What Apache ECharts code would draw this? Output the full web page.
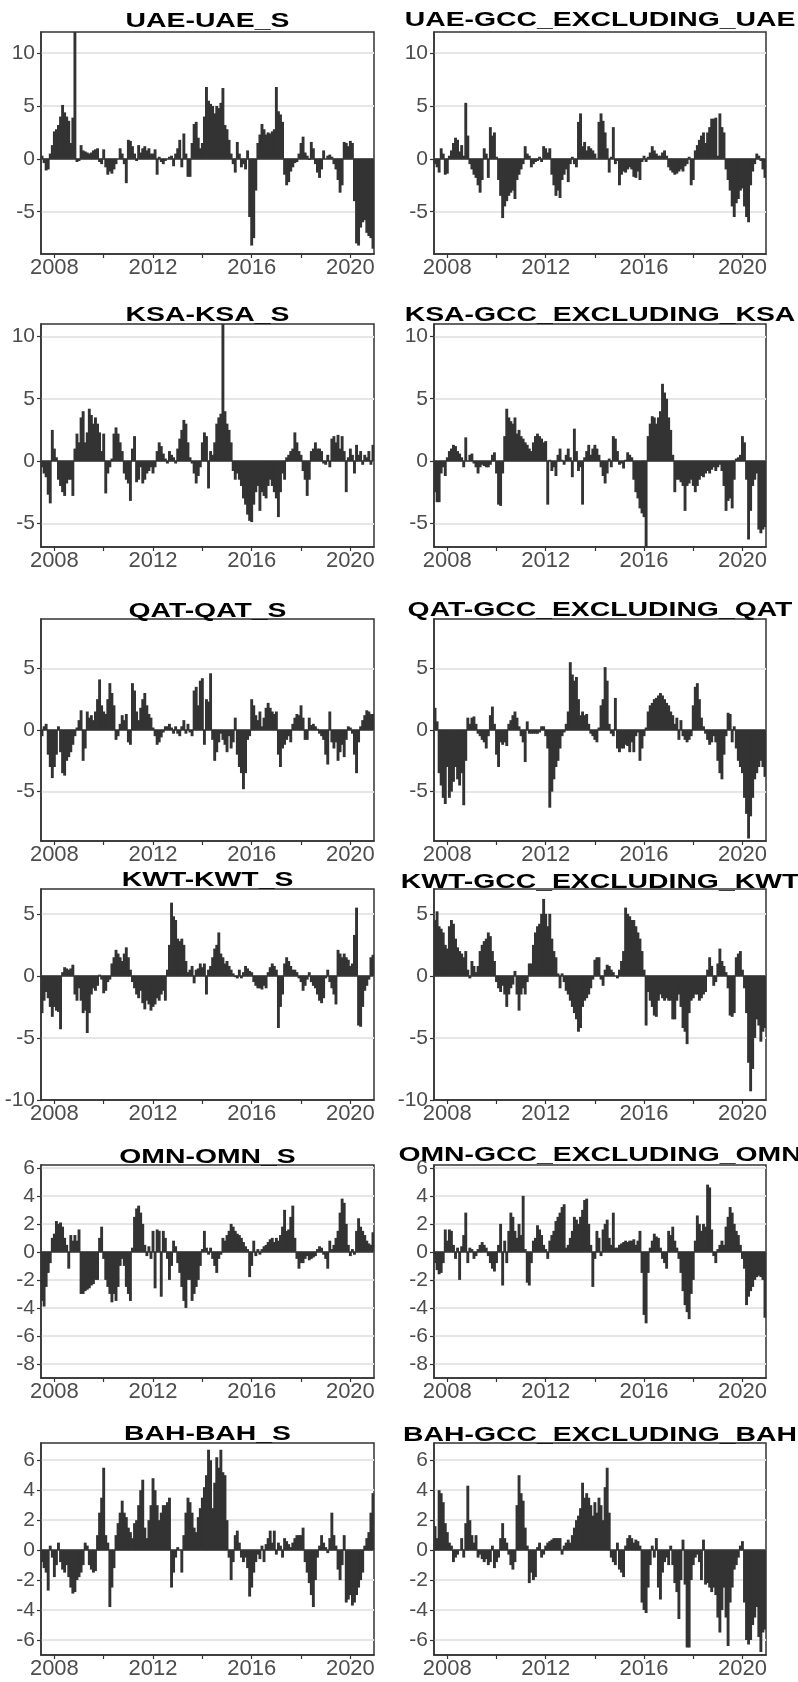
<!DOCTYPE html>
<html><head><meta charset="utf-8">
<script src="https://cdn.jsdelivr.net/npm/echarts@6/dist/echarts.min.js"></script>
<style>html,body{margin:0;padding:0;background:#fff}#c{width:798px;height:1682px}</style>
</head><body><div id="c"></div>
<script>
// ---- categories (monthly, Jul 2007 .. Dec 2020) ----
const months = [];
for (let y = 2007; y <= 2020; y++) for (let m = 1; m <= 12; m++) {
  if (y === 2007 && m < 7) continue;
  months.push(y + '-' + String(m).padStart(2, '0'));
}
const yearLabels = ['2008', '2012', '2016', '2020'];

const titles = ['UAE-UAE_S','UAE-GCC_EXCLUDING_UAE','KSA-KSA_S','KSA-GCC_EXCLUDING_KSA',
  'QAT-QAT_S','QAT-GCC_EXCLUDING_QAT','KWT-KWT_S','KWT-GCC_EXCLUDING_KWT',
  'OMN-OMN_S','OMN-GCC_EXCLUDING_OMN','BAH-BAH_S','BAH-GCC_EXCLUDING_BAH'];

// ---- series values ----
const uaeUae = [0.3,-0.4,-1.1,-1.0,0.5,1.3,
 2.6,2.8,3.2,4.0,5.1,4.4,4.0,3.6,1.5,3.9,12,-0.3,
 -0.2,1.3,0.8,0.7,0.6,0.5,0.6,0.8,0.9,1.0,-0.3,-0.5,
 0.9,-0.8,-1.5,-1.2,-1.4,-1.0,-0.5,0.0,1.0,0.5,-0.5,-2.3,
 1.8,1.7,1.2,0.5,-0.2,1.3,0.6,1.0,1.2,0.8,1.0,0.5,
 0.5,0.9,-1.5,0.2,-0.3,-0.5,-0.2,0.0,0.2,0.3,-0.7,0.5,
 1.0,1.8,-0.8,2.4,0.5,-1.7,-1.7,1.5,3.3,3.5,2.0,1.0,
 1.5,4.0,6.8,5.5,5.2,5.0,4.3,5.0,4.8,5.3,6.7,3.2,
 2.8,1.8,0.5,-0.5,-1.3,1.6,0.5,-0.8,-0.5,-1.0,0.8,-5.5,
 -8.2,-7.5,-3.0,1.5,2.3,3.3,2.8,2.3,2.5,2.4,2.6,2.8,
 6.8,4.5,4.2,3.5,-1.5,-2.5,-2.2,-1.2,-0.8,-0.4,-0.3,0.5,
 1.5,2.1,0.6,0.3,-0.1,1.6,1.0,-0.5,-1.3,-1.8,-1.0,0.8,
 0.0,0.3,0.4,0.2,-0.5,-1.0,-2.0,-3.2,-2.5,1.6,1.5,1.2,
 1.7,1.5,-4.0,-8.0,-8.2,-6.5,-6.0,-5.8,-7.0,-7.3,-7.5,-8.5];
const uaeGcc = [-0.5,-0.8,-1.3,1.0,0.5,-1.5,
 -1.4,0.3,0.8,1.5,2.0,1.8,0.7,1.3,0.3,5.3,2.2,-0.5,
 -1.0,-1.5,-1.8,-2.5,-3.2,-2.0,1.0,0.5,-1.8,3.0,2.2,2.5,
 0.2,-2.0,-3.5,-5.6,-4.5,-4.0,-3.5,-3.2,-3.0,-3.8,-2.0,-1.5,
 -1.0,-0.5,1.2,0.5,0.3,-0.8,-0.5,-0.3,-0.2,0.2,-0.3,1.2,
 1.0,0.6,1.0,-1.5,-2.5,-3.5,-3.0,-3.7,-2.0,-1.5,-1.0,-2.2,
 -0.5,0.2,-0.5,-0.8,3.5,4.3,1.2,1.6,0.8,1.2,1.0,0.8,
 0.5,0.0,3.5,4.3,3.6,2.5,1.0,-1.3,0.2,3.0,-0.5,-0.2,
 -2.5,-1.5,-1.2,-1.3,-1.0,-0.8,-1.0,-1.7,-1.8,-1.2,-2.0,-0.3,
 0.3,-0.3,0.2,0.6,1.2,0.8,0.5,0.3,0.3,0.6,0.8,0.3,
 -0.8,-1.1,-1.3,-1.5,-1.4,-1.2,-1.0,-1.2,-0.7,-0.5,0.2,-2.5,
 -2.0,0.8,1.3,1.8,2.2,2.5,1.5,2.5,3.0,3.8,3.8,3.9,
 0.3,4.3,3.0,2.5,-1.0,-2.0,-3.0,-4.5,-5.5,-4.2,-3.8,-3.0,
 -2.8,-4.5,-5.5,-6.0,-2.5,-1.2,-0.5,0.5,0.3,-0.2,-1.0,-1.8];
const ksaKsa = [-0.5,-1.0,-1.3,-2.7,-3.4,2.5,
 1.0,0.3,-1.5,-2.0,-2.5,-2.8,-1.8,-1.5,-1.5,-2.8,1.0,2.2,
 1.5,3.5,4.0,1.5,2.3,4.2,3.7,3.0,3.5,3.0,2.3,0.8,
 2.2,-2.6,-1.0,-0.5,0.2,2.2,2.7,2.2,1.5,0.8,-1.0,-1.5,
 -1.8,-3.2,1.0,2.0,-1.7,-1.5,-0.5,-1.8,-1.5,-1.0,-0.8,-0.5,
 -1.0,-0.5,0.8,1.5,1.2,0.6,0.2,-0.2,0.8,0.5,0.3,-0.2,
 1.0,1.8,2.5,3.3,3.0,1.5,0.3,-0.2,-1.0,-1.8,-1.2,-0.5,
 1.5,2.3,2.0,-2.2,0.8,0.5,1.5,3.0,3.5,3.8,11.0,4.0,
 3.0,2.5,1.5,-0.8,-1.5,-1.0,-1.5,-2.0,-3.0,-3.5,-4.3,-4.8,
 -4.9,-3.5,-2.5,-2.0,-4.0,-2.5,-2.8,-3.0,-2.0,-1.5,-2.0,-2.5,
 -3.0,-4.5,-2.5,-1.0,-1.5,0.3,0.5,0.8,1.0,2.3,1.5,0.8,
 0.5,-0.8,-1.5,-2.8,-1.5,0.8,1.0,1.5,1.0,1.0,0.8,-0.2,
 -0.3,0.5,-0.5,1.8,2.0,1.5,2.1,1.0,2.0,0.8,-2.5,0.3,
 1.0,0.5,-1.0,1.3,0.5,0.8,-0.3,0.5,0.3,0.8,-0.3,1.3];
const ksaGcc = [-2.5,-3.3,-3.3,-1.0,-0.5,-1.2,
 0.3,0.8,1.0,1.3,1.2,0.8,0.6,0.3,-0.5,1.9,0.0,0.5,
 0.6,-0.2,-0.5,-1.0,-0.5,-0.3,-0.4,-0.5,-0.5,-0.3,0.5,0.7,
 -1.0,-3.5,-3.6,-1.0,2.0,4.2,3.5,3.2,3.0,3.5,2.2,2.5,
 2.0,1.8,1.5,1.3,1.0,0.8,1.5,2.0,2.2,2.0,1.8,1.5,
 1.6,-3.5,0.1,-0.8,-0.5,-1.2,0.5,1.0,0.1,-0.3,0.5,1.0,
 0.3,-1.3,2.6,0.8,-0.8,-0.5,-3.5,0.3,0.8,1.3,0.5,1.0,
 1.3,1.0,0.5,-0.5,-1.2,-1.8,-1.0,0.2,-0.5,2.0,1.8,0.8,
 -0.3,-0.2,-0.6,0.1,0.7,0.5,0.3,-1.5,-2.5,-3.0,-3.8,-4.2,
 -4.5,-7.0,2.0,3.0,3.6,3.5,3.0,3.5,4.0,6.2,5.5,5.0,
 3.5,2.5,0.5,-2.5,-1.5,-1.5,-1.7,-2.0,-4.0,-2.0,-1.8,-1.5,
 -2.0,-2.5,-2.0,-1.5,-1.2,-1.3,-1.0,-0.8,-1.0,-0.7,-0.5,-0.8,
 -0.5,-0.3,-0.8,-2.0,-4.0,-3.2,-3.0,-3.8,-1.5,0.2,0.3,0.5,
 2.0,1.5,-1.5,-6.3,-4.0,-2.0,-1.5,-1.0,-5.5,-5.8,-5.5,-5.3];
const qatQat = [-0.5,0.3,0.5,-2.0,-3.0,-3.9,
 -3.0,-2.0,0.3,-1.8,-3.5,-3.7,-2.5,-2.2,-1.8,-1.2,-0.5,0.2,
 0.8,1.6,-2.5,-1.5,1.5,1.0,1.2,0.8,1.5,2.5,4.1,2.0,
 1.5,1.3,2.5,3.8,3.0,2.0,-0.8,-0.5,0.5,1.2,0.8,1.3,
 -1.0,-1.2,3.8,3.2,1.5,0.8,1.8,2.5,3.0,2.0,1.3,1.0,
 0.2,-0.5,-1.2,-1.0,-0.6,-0.2,0.3,0.3,0.5,0.2,-0.3,0.3,
 -0.3,-0.5,0.3,0.8,-0.3,0.5,-0.2,-0.5,3.2,3.5,2.0,4.0,
 4.2,-1.2,2.5,2.3,4.6,-0.8,-2.5,-1.8,-1.0,-0.3,-0.8,-1.2,
 -1.8,-0.5,-1.5,-1.0,1.0,-2.0,-3.0,-3.5,-4.8,-3.5,-0.8,-0.5,
 2.5,2.0,1.2,0.8,1.5,0.3,1.0,1.8,2.2,1.8,1.5,1.3,
 1.5,-2.0,-3.0,-1.5,-1.2,-0.8,-0.5,-1.0,0.5,1.0,1.3,1.2,
 2.0,1.0,-0.8,-0.8,1.0,0.4,0.5,0.3,0.1,-0.3,-0.5,-0.8,
 -2.0,-2.8,1.5,-1.0,-1.5,-1.0,-2.5,-1.8,-1.2,-2.2,-0.8,0.3,
 0.2,-0.3,-2.0,-3.5,-1.0,0.3,0.8,1.2,1.6,1.5,1.3,1.3];
const qatGcc = [1.8,0.7,-3.5,-4.5,-5.5,-6.0,
 -3.0,-5.5,-5.0,-4.2,-3.0,-4.0,-4.5,-3.5,-6.1,-2.5,1.0,0.5,
 1.0,1.1,0.5,-0.3,-0.5,-0.8,-1.0,-1.5,-0.5,1.2,1.9,0.5,
 -2.0,-3.0,-1.0,-1.2,-1.0,-1.3,0.5,0.8,1.2,1.5,1.0,0.3,
 -0.5,-1.0,-2.6,0.7,-0.3,-0.3,-0.3,-0.3,-0.3,-0.2,0.3,0.3,
 -0.5,-1.5,-6.3,-5.0,-4.0,-3.0,-2.5,-1.5,-0.5,-0.2,0.5,1.5,
 5.5,4.5,4.0,4.3,2.5,1.2,1.5,1.2,1.3,0.5,-0.3,-0.5,
 -0.8,-1.0,0.2,2.0,2.5,5.1,4.0,0.5,-0.3,-0.5,2.6,-1.5,
 -1.8,-1.5,-1.5,-1.2,-1.3,-1.8,-1.0,-1.8,-0.5,-0.2,-2.5,-1.5,
 -0.5,0.2,1.5,2.0,2.2,2.5,2.6,2.8,3.0,2.8,2.5,2.2,
 2.0,1.5,1.2,0.5,1.0,-0.8,0.8,-0.5,-0.8,-1.0,-0.8,-0.5,
 2.0,3.5,3.8,2.5,1.0,0.3,-0.3,-0.8,-1.2,-1.0,-0.5,-1.0,
 -2.5,-3.5,-4.0,-2.0,-0.5,1.4,1.3,-1.0,0.3,-1.5,-2.5,-3.0,
 -3.5,-5.5,-6.8,-8.8,-7.0,-5.5,-4.0,-3.5,-3.0,-2.5,-3.0,-3.8];
const kwtKwt = [-3.0,-2.0,-1.3,-1.8,-2.5,-3.3,
 -2.5,-2.8,-2.9,-4.3,0.3,0.7,0.6,0.5,0.6,0.9,-1.5,-2.0,
 -1.0,-2.0,-3.0,-2.8,-4.6,-3.0,-1.5,-1.0,-1.2,-0.8,0.1,-0.3,
 -1.4,-1.2,-0.5,-0.3,1.0,1.5,2.1,1.8,1.5,1.2,1.8,2.3,
 1.5,0.5,-0.5,-1.0,-1.5,-1.8,-1.2,-2.2,-2.7,-2.0,-2.3,-2.8,
 -2.5,-2.3,-1.8,-2.0,-1.5,-1.2,-2.0,0.5,2.5,5.9,4.8,4.5,
 3.0,2.8,3.0,2.5,1.2,0.3,0.5,0.8,-0.6,0.5,0.6,1.0,
 0.7,1.0,-1.5,0.5,0.8,1.5,2.2,2.5,3.5,1.8,1.5,1.0,
 1.2,0.8,0.5,0.2,-0.1,-0.2,0.5,-0.2,0.3,0.8,0.6,0.4,
 0.3,-0.5,-0.8,-1.0,-1.0,-1.1,-0.8,-1.0,0.3,0.7,1.0,0.8,
 0.5,-4.2,-2.5,-1.5,1.0,1.5,1.2,0.8,0.5,0.5,0.3,-0.2,
 -0.5,-1.2,-0.8,-0.3,0.3,-0.5,-0.8,-1.0,-1.5,-2.0,-2.2,-1.8,
 -0.2,0.5,-0.5,-1.0,-1.5,-2.3,2.1,1.8,1.5,1.8,1.5,1.3,
 0.8,1.0,3.3,5.5,-4.0,-4.1,-2.5,-1.2,-0.8,-0.3,1.5,1.7];
const kwtGcc = [4.5,5.2,4.0,3.8,3.5,2.5,
 2.2,4.0,4.5,4.2,3.0,2.3,2.0,1.8,1.5,2.0,0.5,-0.2,
 1.2,0.8,0.3,0.8,2.0,2.5,2.8,3.0,3.5,3.2,2.0,1.2,
 -0.5,-1.0,-1.3,-0.8,-1.5,-2.5,-1.5,-1.0,-0.7,0.4,-1.5,-2.8,
 -1.5,-1.0,-1.5,-0.5,1.0,1.0,2.5,3.5,4.0,4.2,5.0,6.2,
 5.0,4.0,5.0,3.0,2.0,1.5,0.2,-1.0,0.2,-0.5,-1.2,-1.5,
 -2.0,-2.5,-3.0,-3.5,-4.5,-4.2,-2.5,-2.0,-1.8,-1.5,-1.0,-0.3,
 1.3,1.5,1.5,-0.3,-0.8,0.5,0.9,0.8,0.5,0.3,0.0,-0.2,
 0.5,1.2,2.0,5.5,5.0,4.8,4.5,4.5,4.0,3.5,3.0,2.0,
 0.5,-4.0,-1.3,-2.0,-2.5,-3.2,-3.3,-2.0,-1.5,-1.8,-2.0,-1.8,
 -2.0,-2.0,-3.5,-3.5,-2.0,-1.5,-2.5,-4.2,-4.5,-5.5,-3.0,-2.0,
 -1.8,-1.5,-1.5,-2.0,-1.8,-1.5,-1.3,0.5,1.5,0.8,-0.8,-0.5,
 1.0,2.2,1.2,0.8,0.3,-1.0,-3.2,-3.3,-3.0,1.5,1.8,2.0,
 0.5,-1.0,-3.0,-7.0,-9.3,-7.5,-5.0,-3.5,-4.0,-5.3,-4.5,-4.2];
const omnOmn = [-3.5,-3.9,-2.5,-1.5,-0.8,1.0,
 1.3,2.2,2.0,2.1,1.8,1.0,0.5,-1.2,1.2,0.8,1.2,0.8,
 1.6,-3.0,-3.0,-2.8,-2.7,-2.6,-2.4,-2.3,-2.0,-2.0,1.0,1.8,
 -0.5,-2.0,-2.5,-3.0,-3.6,-3.0,-3.5,-2.5,-1.0,-0.5,-1.0,-2.5,
 -3.0,-3.5,0.3,2.5,3.1,3.3,2.8,2.0,0.5,-0.3,0.4,-0.5,
 1.5,-2.6,1.6,1.5,-3.2,1.5,1.0,-0.5,-2.0,-1.0,0.8,0.4,
 -0.8,-1.5,-2.5,-3.5,-4.0,-2.0,-2.0,-3.5,-3.0,-2.5,-2.0,-1.0,
 0.2,1.5,0.3,-0.2,0.3,-0.5,-1.0,-1.5,-0.5,-0.2,1.0,0.8,
 1.2,1.5,2.0,1.8,1.5,1.3,1.2,1.0,0.7,0.4,0.2,-1.8,
 -1.0,0.8,-0.3,0.2,-0.2,0.2,0.4,0.5,0.7,0.9,1.0,0.7,
 1.0,0.8,1.2,1.8,3.0,1.5,1.6,2.5,3.3,1.0,-0.5,-1.2,
 -0.8,-0.8,-0.5,-0.3,-0.6,-0.5,-0.4,-0.3,0.2,0.4,0.3,-0.2,
 -0.5,-1.2,0.8,0.2,0.5,1.0,1.5,2.8,3.8,3.5,2.0,0.5,
 -0.3,0.2,-0.2,1.5,2.4,1.8,1.5,1.2,0.8,0.6,0.5,1.4];
const omnGcc = [-0.8,-1.3,-1.6,-1.5,-0.8,1.6,
 0.8,1.6,1.5,0.5,-0.5,0.3,-2.0,0.4,1.2,2.8,-0.8,0.3,
 0.2,-0.5,-0.3,0.2,0.5,0.7,0.5,0.3,-0.3,-0.8,-1.2,-1.4,
 -0.8,0.5,2.0,-2.4,0.8,-0.8,1.5,2.8,2.5,1.5,1.0,2.0,
 1.2,4.0,0.2,-2.2,-2.4,-0.8,0.8,1.0,1.9,1.6,1.2,0.5,
 0.2,-0.5,0.8,1.2,1.5,2.2,2.5,2.8,3.2,3.4,0.3,0.5,
 1.0,1.5,2.5,2.3,2.0,2.5,3.0,3.7,3.8,2.0,0.5,-2.5,
 -0.5,1.5,1.0,-0.3,1.6,2.0,2.3,1.0,0.5,2.8,0.3,0.3,
 0.5,0.6,0.7,0.8,0.7,0.8,0.8,0.9,0.5,0.8,1.5,-1.5,
 -4.5,-5.1,-1.5,0.3,0.8,1.3,1.1,1.0,0.3,-0.5,-0.8,-1.2,
 1.5,1.2,1.8,0.8,0.3,-0.5,-1.5,-2.8,-3.8,-4.3,-4.8,-3.0,
 -2.0,0.8,2.6,2.0,1.5,2.0,1.8,4.8,4.6,1.6,-0.3,-0.8,
 0.2,0.5,0.8,0.5,1.8,2.5,3.2,2.8,2.0,1.5,1.2,0.5,
 -0.5,-1.2,-3.8,-3.2,-2.8,-2.5,-2.0,-1.8,-1.7,-1.8,-2.0,-4.7];
const bahBah = [-0.8,-1.2,-1.5,-2.7,0.3,-0.5,
 -1.8,-1.0,0.5,-0.8,-1.3,-1.5,-1.0,-1.8,-2.5,-2.9,-2.8,-2.0,
 -1.8,-1.5,-1.0,0.5,0.3,-1.0,-1.3,-1.5,-1.4,1.0,2.5,3.5,
 5.5,1.0,0.5,-3.8,-2.5,-1.2,1.0,1.8,2.5,3.3,2.5,2.2,
 1.5,1.2,0.8,1.8,2.0,3.0,4.0,4.7,1.5,0.8,2.0,3.0,
 4.8,4.0,3.0,2.0,2.5,3.0,3.0,3.2,3.5,-2.5,-1.5,-0.5,
 0.2,0.0,-1.5,1.0,2.5,3.5,3.2,2.5,1.5,1.2,2.2,2.8,
 3.5,4.2,5.0,6.7,6.0,2.8,4.5,6.2,5.5,6.7,5.2,5.0,
 2.0,-0.5,-2.0,-0.8,1.0,1.3,0.5,-0.5,-0.8,-0.5,-1.2,-3.1,
 -2.5,-1.5,-0.8,-0.3,-0.6,0.3,-0.8,0.4,0.8,1.3,0.5,1.3,
 -0.3,0.5,0.3,-0.5,0.8,0.6,0.4,0.2,0.5,0.8,1.0,1.0,
 1.0,1.5,-0.8,-1.5,-2.2,-3.0,-3.8,-2.0,-0.5,0.3,1.0,0.5,
 0.2,-0.2,0.8,2.5,1.0,0.3,-1.3,-2.0,-1.0,1.0,-3.5,-3.3,
 -3.0,-3.7,-3.5,-3.0,-2.5,-2.0,-1.5,0.3,0.8,1.2,2.5,3.8];
const bahGcc = [1.6,0.8,4.0,3.8,3.2,1.8,
 1.2,0.5,0.3,-0.8,-0.5,-0.3,0.0,0.8,-0.5,1.8,4.3,2.0,
 1.0,0.5,1.0,-0.5,-0.3,-0.6,-0.8,-0.6,-1.0,-0.8,0.3,-1.2,
 -0.8,-0.5,0.8,1.8,0.8,0.5,-0.3,-1.0,-1.3,-0.8,3.0,5.0,
 3.8,3.3,1.5,0.3,-2.2,-1.5,-2.0,-1.8,0.2,0.5,-0.5,-0.3,
 0.3,0.5,0.6,0.7,0.8,0.8,0.8,0.8,-0.3,0.3,0.5,0.7,
 0.5,1.0,1.5,2.0,2.3,2.8,4.5,3.5,3.8,3.5,3.0,2.3,
 3.2,2.5,3.5,3.0,2.0,4.2,5.5,2.5,-0.5,-0.8,-1.0,0.5,
 -1.3,-1.5,-1.8,0.3,0.8,1.0,0.8,0.5,0.7,0.6,0.3,-3.5,
 -4.0,-4.2,-2.5,-1.0,0.3,-0.5,0.8,-2.5,-3.3,-1.5,-0.8,-0.5,
 -1.0,0.3,-1.0,-2.2,-2.8,-4.6,-2.0,0.7,-2.3,-6.5,-6.5,-2.0,
 -1.0,-0.5,-0.3,-0.8,-2.0,0.7,-2.3,-2.2,-2.5,-2.8,-2.5,-3.0,
 -4.5,-5.5,-4.0,-2.5,-4.5,-6.4,-3.5,-2.5,-1.3,-1.0,-0.5,0.3,
 0.6,-3.5,-6.0,-6.3,-6.0,-5.0,-4.5,-3.8,-5.8,-6.8,-5.5,-5.3];

const seriesData = [uaeUae, uaeGcc, ksaKsa, ksaGcc, qatQat, qatGcc, kwtKwt, kwtGcc, omnOmn, omnGcc, bahBah, bahGcc];

// ---- axis ranges per row ----
const yMin = [-9, -6.9, -9, -10, -9, -7];
const yMax = [12, 11, 9, 7, 6.2, 7.15];
const yStep = [5, 5, 5, 5, 2, 2];

// ---- layout ----
const colLeft = [41, 434], colWidth = [333, 332];
const rowTop = [32, 324, 619, 889, 1165, 1443];
const rowHeight = [222, 223, 222, 211, 213, 212];
const titleY = [[21, 20], [315.5, 315], [611.5, 610.5], [880, 882], [1157, 1155.5], [1434.5, 1435.5]];
const FONT = '"Liberation Sans", Arial, Helvetica, sans-serif';

const grid = [], xAxis = [], yAxis = [], series = [], graphic = [];
for (let k = 0; k < 12; k++) {
  const r = Math.floor(k / 2), c = k % 2;
  grid.push({ left: colLeft[c], top: rowTop[r], width: colWidth[c], height: rowHeight[r],
    show: true, borderColor: '#333', borderWidth: 1.5, backgroundColor: 'transparent', containLabel: false });
  xAxis.push({ type: 'category', gridIndex: k, data: months, boundaryGap: true,
    axisLine: { show: true, onZero: false, lineStyle: { color: '#333', width: 1.5 } },
    axisTick: { show: true, alignWithLabel: true, length: 4,
      interval: (i, v) => v.endsWith('-01') && (+v.slice(0, 4)) % 2 === 0,
      lineStyle: { color: '#333', width: 1.2 } },
    axisLabel: { interval: (i, v) => v.endsWith('-01') && yearLabels.indexOf(v.slice(0, 4)) >= 0,
      formatter: v => v.slice(0, 4), fontSize: 22, color: '#4d4d4d', margin: 3, fontFamily: FONT },
    splitLine: { show: false } });
  yAxis.push({ type: 'value', gridIndex: k, min: yMin[r], max: yMax[r],
    minInterval: yStep[r], maxInterval: yStep[r],
    axisLine: { show: true, lineStyle: { color: '#333', width: 1.5 } },
    axisTick: { show: true, length: 4, lineStyle: { color: '#333', width: 1.2 } },
    axisLabel: { fontSize: 21, color: '#4d4d4d', margin: 6, fontFamily: FONT,
      showMinLabel: r === 3, showMaxLabel: false },
    splitLine: { show: true, showMinLine: false, showMaxLine: false, lineStyle: { color: '#e6e6e6', width: 2 } } });
  series.push({ type: 'bar', xAxisIndex: k, yAxisIndex: k, data: seriesData[k],
    barWidth: 2.9, itemStyle: { color: '#333333' }, silent: true,
    markLine: { silent: true, symbol: 'none', label: { show: false },
      lineStyle: { color: '#333', width: 1.5, type: 'solid' }, data: [{ yAxis: 0 }] } });
  graphic.push({ type: 'text', x: colLeft[c] + colWidth[c] / 2, y: titleY[r][c], scaleX: 1.35, z: 100,
    style: { text: titles[k], font: 'bold 21px ' + FONT, fill: '#000',
      align: 'center', verticalAlign: 'middle', textAlign: 'center', textVerticalAlign: 'middle' } });
}
// clip right-column titles at the panel boundary, as in the source figure
for (let r = 0; r < 6; r++) {
  graphic.push({ type: 'rect', z: 101, shape: { x: 382, y: titleY[r][1] - 14, width: 16, height: 28 },
    style: { fill: '#fff' } });
}

const chart = echarts.init(document.getElementById('c'), null, { renderer: 'canvas' });
chart.setOption({ animation: false, backgroundColor: '#fff', grid, xAxis, yAxis, series, graphic });
</script>
</body></html>
